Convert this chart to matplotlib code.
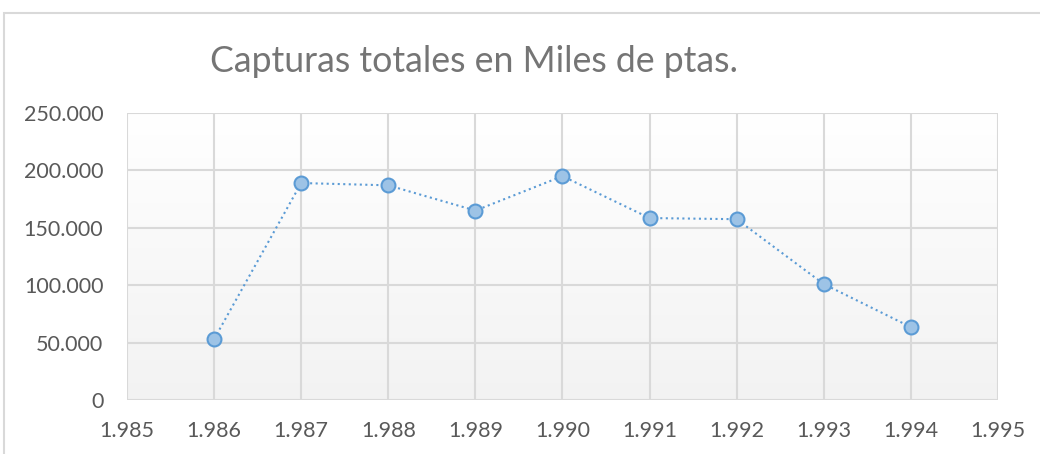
import matplotlib.pyplot as plt
import numpy as np
from matplotlib.ticker import FuncFormatter, MultipleLocator
from matplotlib.patches import Rectangle

# datos
anos = [1986, 1987, 1988, 1989, 1990, 1991, 1992, 1993, 1994]
capturas = [53000, 189000, 187000, 165000, 195000, 158500, 157500, 101000, 63500]

titulo = 'Capturas totales en Miles de ptas.'

plt.rcParams['font.family'] = ['Lato', 'DejaVu Sans']

fig = plt.figure(figsize=(10.4, 4.54), dpi=100)
ax = fig.add_axes([0.1221, 0.1189, 0.8375, 0.6322])

# marco exterior del grafico (recortado)
fig.patches.append(Rectangle((4 / 1040, -0.1), 1.2, 1 - 13 / 454 + 0.1,
                             transform=fig.transFigure, fill=False,
                             edgecolor='#d9d9d9', linewidth=1.5))

# fondo degradado del area de trazado
grad = np.linspace(1.0, 0.95, 256).reshape(-1, 1)
ax.imshow(np.dstack([grad, grad, grad]), extent=[1985, 1995, 0, 250000],
          aspect='auto', origin='upper', zorder=0)

ax.plot(anos, capturas, linestyle=':', color='#5b9bd5', linewidth=1.5,
        marker='o', markersize=10, markerfacecolor='#9dc3e6',
        markeredgecolor='#5b9bd5', markeredgewidth=1.5, zorder=3)

ax.set_xlim(1985, 1995)
ax.set_ylim(0, 250000)
ax.xaxis.set_major_locator(MultipleLocator(1))
ax.yaxis.set_major_locator(MultipleLocator(50000))

miles = FuncFormatter(lambda v, p: f'{int(round(v)):,}'.replace(',', '.'))
ax.xaxis.set_major_formatter(miles)
ax.yaxis.set_major_formatter(miles)

ax.grid(True, color='#d9d9d9', linewidth=1.5, zorder=1)
ax.set_axisbelow(True)
for s in ax.spines.values():
    s.set_visible(False)
ax.tick_params(length=0, labelsize=15.5, labelcolor='#595959')
ax.tick_params(axis='y', pad=17)
ax.tick_params(axis='x', pad=15)

fig.text(474 / 1040, 1 - 62 / 454, titulo, ha='center', va='center',
         fontsize=25.7, color='#757575')

fig.savefig('out.png', dpi=100)
